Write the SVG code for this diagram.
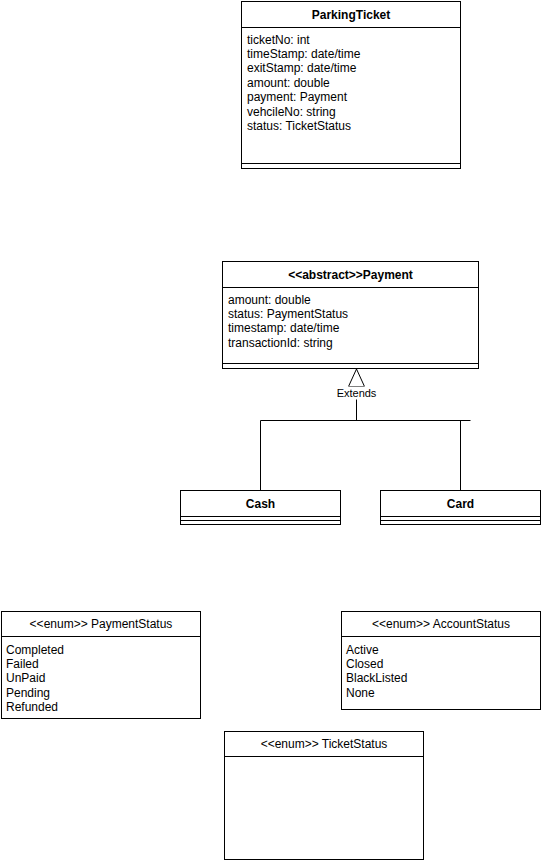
<svg xmlns="http://www.w3.org/2000/svg" width="541" height="861" viewBox="0 0 541 861">
  <style>
    .box { fill: #ffffff; stroke: #000000; stroke-width: 1; }
    .sep { fill: none; stroke: #000000; stroke-width: 1; }
    .edge { fill: none; stroke: #000000; stroke-width: 1; }
    text { font-family: "Liberation Sans", Arial, Helvetica, sans-serif; font-size: 12px; fill: #000000; }
    .title { font-weight: bold; text-anchor: middle; }
    .enumTitle { text-anchor: middle; }
    .lbl { font-size: 11px; text-anchor: middle; }
  </style>
  <rect width="541" height="861" fill="#ffffff"/>

  <!-- ParkingTicket class -->
  <g id="parking-ticket">
    <rect class="box" x="241.5" y="1.5" width="219" height="167"/>
    <line class="sep" x1="241.5" y1="27.5" x2="460.5" y2="27.5"/>
    <line class="sep" x1="241.5" y1="163.5" x2="460.5" y2="163.5"/>
    <text class="title" x="351" y="18.5">ParkingTicket</text>
    <text x="247" y="43.5">ticketNo: int</text>
    <text x="247" y="58">timeStamp: date/time</text>
    <text x="247" y="72.4">exitStamp: date/time</text>
    <text x="247" y="86.8">amount: double</text>
    <text x="247" y="101.2">payment: Payment</text>
    <text x="247" y="115.6">vehcileNo: string</text>
    <text x="247" y="130">status: TicketStatus</text>
  </g>

  <!-- Payment abstract class -->
  <g id="payment">
    <rect class="box" x="222.5" y="261.5" width="256" height="107"/>
    <line class="sep" x1="222.5" y1="287.5" x2="478.5" y2="287.5"/>
    <line class="sep" x1="222.5" y1="363.5" x2="478.5" y2="363.5"/>
    <text class="title" x="350.5" y="278.5">&lt;&lt;abstract&gt;&gt;Payment</text>
    <text x="228" y="303.5">amount: double</text>
    <text x="228" y="318">status: PaymentStatus</text>
    <text x="228" y="332.4">timestamp: date/time</text>
    <text x="228" y="346.8">transactionId: string</text>
  </g>

  <!-- Cash class -->
  <g id="cash">
    <rect class="box" x="180.5" y="490.5" width="160" height="34"/>
    <line class="sep" x1="180.5" y1="516.5" x2="340.5" y2="516.5"/>
    <line class="sep" x1="180.5" y1="520.5" x2="340.5" y2="520.5"/>
    <text class="title" x="260.5" y="507.5">Cash</text>
  </g>

  <!-- Card class -->
  <g id="card">
    <rect class="box" x="380.5" y="490.5" width="160" height="34"/>
    <line class="sep" x1="380.5" y1="516.5" x2="540.5" y2="516.5"/>
    <line class="sep" x1="380.5" y1="520.5" x2="540.5" y2="520.5"/>
    <text class="title" x="460.5" y="507.5">Card</text>
  </g>

  <!-- Generalisation connectors -->
  <g id="connectors">
    <path class="edge" d="M260.5 490 V420.5 H470.5"/>
    <path class="edge" d="M460.5 490 V420.5"/>
    <path class="edge" d="M356.5 420.5 V386.5"/>
    <polygon class="box" points="356.5,369 348.5,386.5 364.5,386.5"/>
    <rect x="336" y="386.5" width="42" height="13" fill="#ffffff"/>
    <text class="lbl" x="356.5" y="397">Extends</text>
  </g>

  <!-- PaymentStatus enum -->
  <g id="payment-status">
    <rect class="box" x="1.5" y="611.5" width="199" height="107"/>
    <line class="sep" x1="1.5" y1="636.5" x2="200.5" y2="636.5"/>
    <text class="enumTitle" x="101" y="627.5">&lt;&lt;enum&gt;&gt; PaymentStatus</text>
    <text x="6" y="653.5">Completed</text>
    <text x="6" y="668">Failed</text>
    <text x="6" y="682.4">UnPaid</text>
    <text x="6" y="696.8">Pending</text>
    <text x="6" y="711.2">Refunded</text>
  </g>

  <!-- AccountStatus enum -->
  <g id="account-status">
    <rect class="box" x="341.5" y="611.5" width="199" height="98"/>
    <line class="sep" x1="341.5" y1="636.5" x2="540.5" y2="636.5"/>
    <text class="enumTitle" x="441" y="627.5">&lt;&lt;enum&gt;&gt; AccountStatus</text>
    <text x="346" y="653.5">Active</text>
    <text x="346" y="668">Closed</text>
    <text x="346" y="682.4">BlackListed</text>
    <text x="346" y="696.8">None</text>
  </g>

  <!-- TicketStatus enum -->
  <g id="ticket-status">
    <rect class="box" x="224.5" y="731.5" width="199" height="128"/>
    <line class="sep" x1="224.5" y1="756.5" x2="423.5" y2="756.5"/>
    <text class="enumTitle" x="324" y="747.5">&lt;&lt;enum&gt;&gt; TicketStatus</text>
  </g>
</svg>
